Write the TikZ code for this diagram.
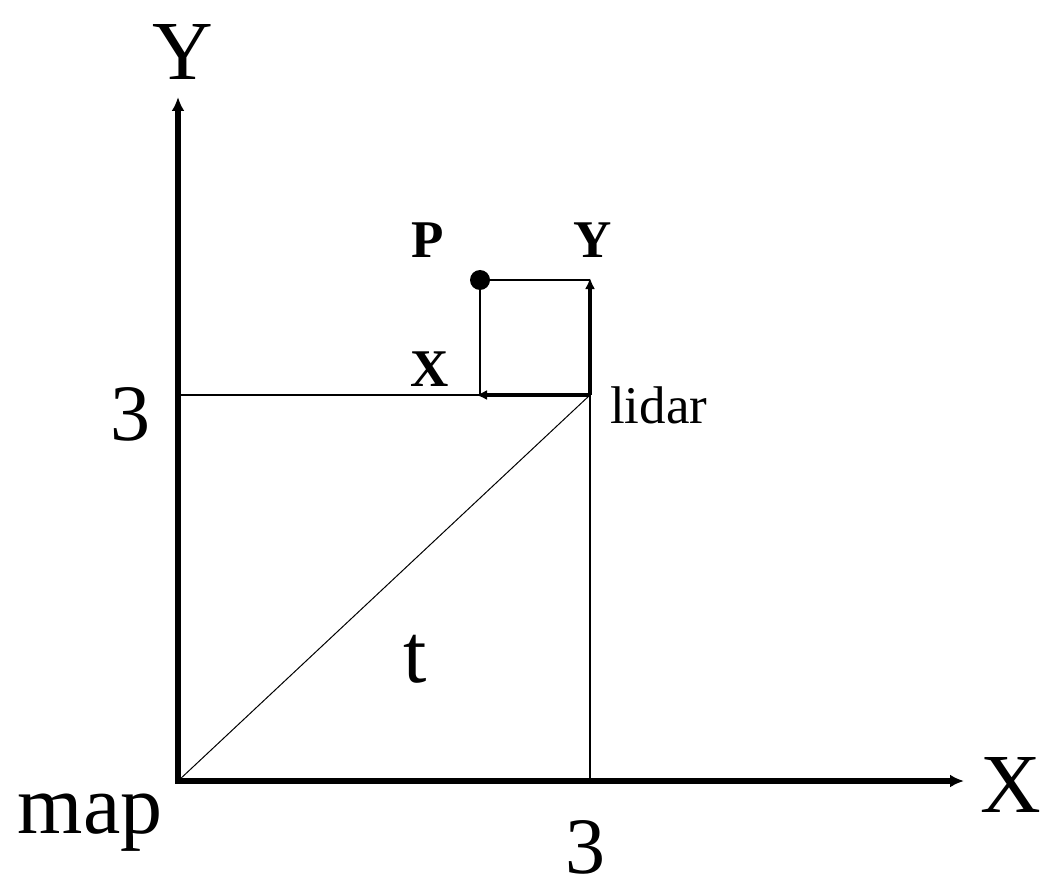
\documentclass[tikz,border=0pt]{standalone}
\usepackage{fontspec}
\setmainfont{Liberation Serif}
\usetikzlibrary{arrows.meta}
\begin{document}
\begin{tikzpicture}[x=1pt,y=-1pt,
  axis/.style={line width=6pt,-{Latex[length=14pt,width=13pt]}},
  laxis/.style={line width=4pt,-{Latex[length=11pt,width=10pt]}},
  thin/.style={line width=1.5pt},
  big/.style={font=\fontsize{84}{84}\selectfont,anchor=base,inner sep=0pt},
  small/.style={font=\fontsize{53}{53}\selectfont,anchor=base,inner sep=0pt},
  smallbold/.style={font=\fontsize{53}{53}\selectfont\bfseries,anchor=base,inner sep=0pt}]
\useasboundingbox (0,0) rectangle (1057,893);
\coordinate (O) at (178,781);
\coordinate (Ytip) at (178,97);
\coordinate (Xtip) at (964,781);
\coordinate (L) at (590,395);
\coordinate (Ly) at (590,278);
\coordinate (Lx) at (476,395);
\coordinate (L3) at (178,395);
\coordinate (B3) at (590,781);
\coordinate (Pc) at (590,280);
\coordinate (Px) at (480,395);
% thin lines
\draw[thin] (L3) -- (L);
\draw[thin] (L) -- (B3);
\draw[line width=1pt] (O) -- (L);
% main axes
\draw[axis,line cap=rect] (O) -- (Ytip);
\draw[axis] (O) -- (Xtip);
% point P
\node[circle,fill=black,inner sep=0pt,minimum size=20pt] (P) at (480,280) {};
\draw[thin] (P.center) -- (Px);
\draw[thin] (P.center) -- (Pc);
% lidar axes
\draw[laxis] (L) -- (Ly);
\draw[laxis] (L) -- (Lx);
% labels
\node[big] (lY) at (183,80) {Y};
\node[big] (lX) at (1011,812) {X};
\node[big] (lmap) at (90,833) {map};
\node[big,font=\fontsize{80}{80}\selectfont] (l3b) at (585,873) {3};
\node[big,font=\fontsize{80}{80}\selectfont] (l3l) at (130,440) {3};
\node[smallbold] (lP) at (428,258) {P};
\node[smallbold] (lYs) at (593,258) {Y};
\node[smallbold] (lXs) at (430,386) {X};
\node[small,anchor=base west] (lidar) at (610,423) {lidar};
\node[big] (lt) at (415,682) {t};
\end{tikzpicture}
\end{document}
